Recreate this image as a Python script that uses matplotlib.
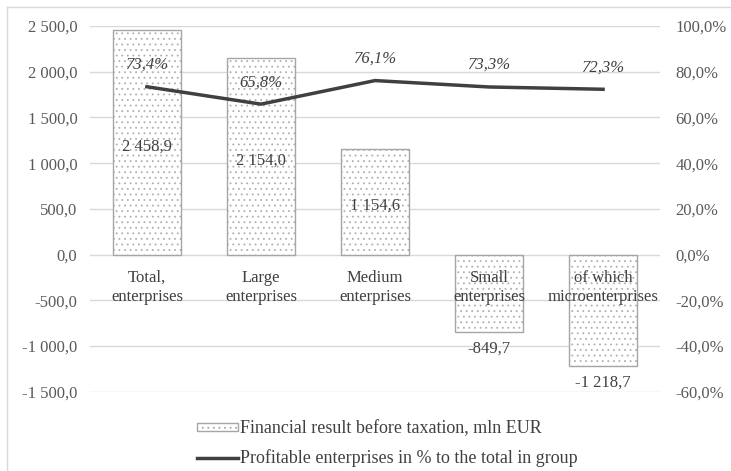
import numpy as np
import matplotlib.pyplot as plt
from matplotlib.lines import Line2D
from matplotlib.patches import Patch

plt.rcParams['font.family'] = ['Liberation Serif', 'DejaVu Serif']
plt.rcParams['hatch.linewidth'] = 0.6

# Data
categories = ["Total,\nenterprises", "Large\nenterprises", "Medium\nenterprises",
              "Small\nenterprises", "of which\nmicroenterprises"]
fin_result = [2458.9, 2154.0, 1154.6, -849.7, -1218.7]
profitable_pct = [73.4, 65.8, 76.1, 73.3, 72.3]

left_ticks = [-1500, -1000, -500, 0, 500, 1000, 1500, 2000, 2500]
right_ticks = [-60, -40, -20, 0, 20, 40, 60, 80, 100]


def fmt_num(v, dec=1):
    s = f"{v:,.{dec}f}"
    return s.replace(",", " ").replace(".", ",")


fig = plt.figure(figsize=(7.31, 4.71), dpi=100)
ax = fig.add_axes([0.123, 0.168, 0.78, 0.777])
x = np.arange(len(categories))

BAR_EDGE = '#a6a6a6'
TXT = '#404040'

# Bars: hatched fill, then an outline on top
ax.bar(x, fin_result, width=0.6, color='white', edgecolor='#b0b0b0',
       hatch='...', linewidth=0.0, zorder=2)
ax.bar(x, fin_result, width=0.6, color='none', edgecolor=BAR_EDGE,
       linewidth=1.0, zorder=3)

ax.set_xlim(-0.5, len(categories) - 0.5)
ax.set_ylim(-1500, 2500)
ax.set_yticks(left_ticks)
ax.set_yticklabels([fmt_num(v) for v in left_ticks])
ax.set_xticks([])
ax.grid(axis='y', color='#d9d9d9', linewidth=1.0, zorder=0)
ax.set_axisbelow(True)
for s in ax.spines.values():
    s.set_visible(False)
ax.tick_params(axis='y', length=0, pad=9, labelsize=12, labelcolor='#595959')

# Value labels
for xi, v in zip(x, fin_result):
    if v >= 0:
        ax.annotate(fmt_num(v), (xi, v / 2), xytext=(0, -3), textcoords='offset points',
                    ha='center', va='center', fontsize=12, color=TXT, zorder=5)
    else:
        ax.annotate(fmt_num(v), (xi, v), xytext=(0, -6), textcoords='offset points',
                    ha='center', va='top', fontsize=12, color=TXT, zorder=5)

# Category labels at the zero line
for xi, c in zip(x, categories):
    ax.annotate(c, (xi, 0), xytext=(0, -11), textcoords='offset points',
                ha='center', va='top', fontsize=12, color=TXT,
                linespacing=1.25, zorder=5)

# Secondary axis: profitable share
ax2 = ax.twinx()
ax2.set_ylim(-60, 100)
ax2.set_yticks(right_ticks)
ax2.set_yticklabels([fmt_num(v) + "%" for v in right_ticks])
for s in ax2.spines.values():
    s.set_visible(False)
ax2.tick_params(axis='y', length=0, pad=11, labelsize=12, labelcolor='#595959')
ax2.plot(x, profitable_pct, color=TXT, linewidth=2.5, zorder=4)
for xi, p in zip(x, profitable_pct):
    ax2.annotate(fmt_num(p) + "%", (xi, p), xytext=(0, 10), textcoords='offset points',
                 ha='center', va='bottom', fontsize=12, style='italic', color=TXT)

# Legend
handles = [Patch(facecolor='white', edgecolor=BAR_EDGE, hatch='...', linewidth=1.0),
           Line2D([], [], color=TXT, linewidth=2.5)]
labels = ["Financial result before taxation, mln EUR",
          "Profitable enterprises in % to the total in group"]
fig.legend(handles, labels, loc='upper center', bbox_to_anchor=(0.53, 0.142),
           frameon=False, fontsize=13, handlelength=2.3, handleheight=0.35,
           handletextpad=0.1, labelspacing=0.65, labelcolor=TXT)

# Chart frame
fig.add_artist(Line2D([0.0096, 1.0], [0.985, 0.985], color='#d9d9d9', linewidth=1.0,
                      transform=fig.transFigure))
fig.add_artist(Line2D([0.0096, 0.0096], [0.0, 0.985], color='#d9d9d9', linewidth=1.0,
                      transform=fig.transFigure))

fig.savefig('out.png', dpi=100)
